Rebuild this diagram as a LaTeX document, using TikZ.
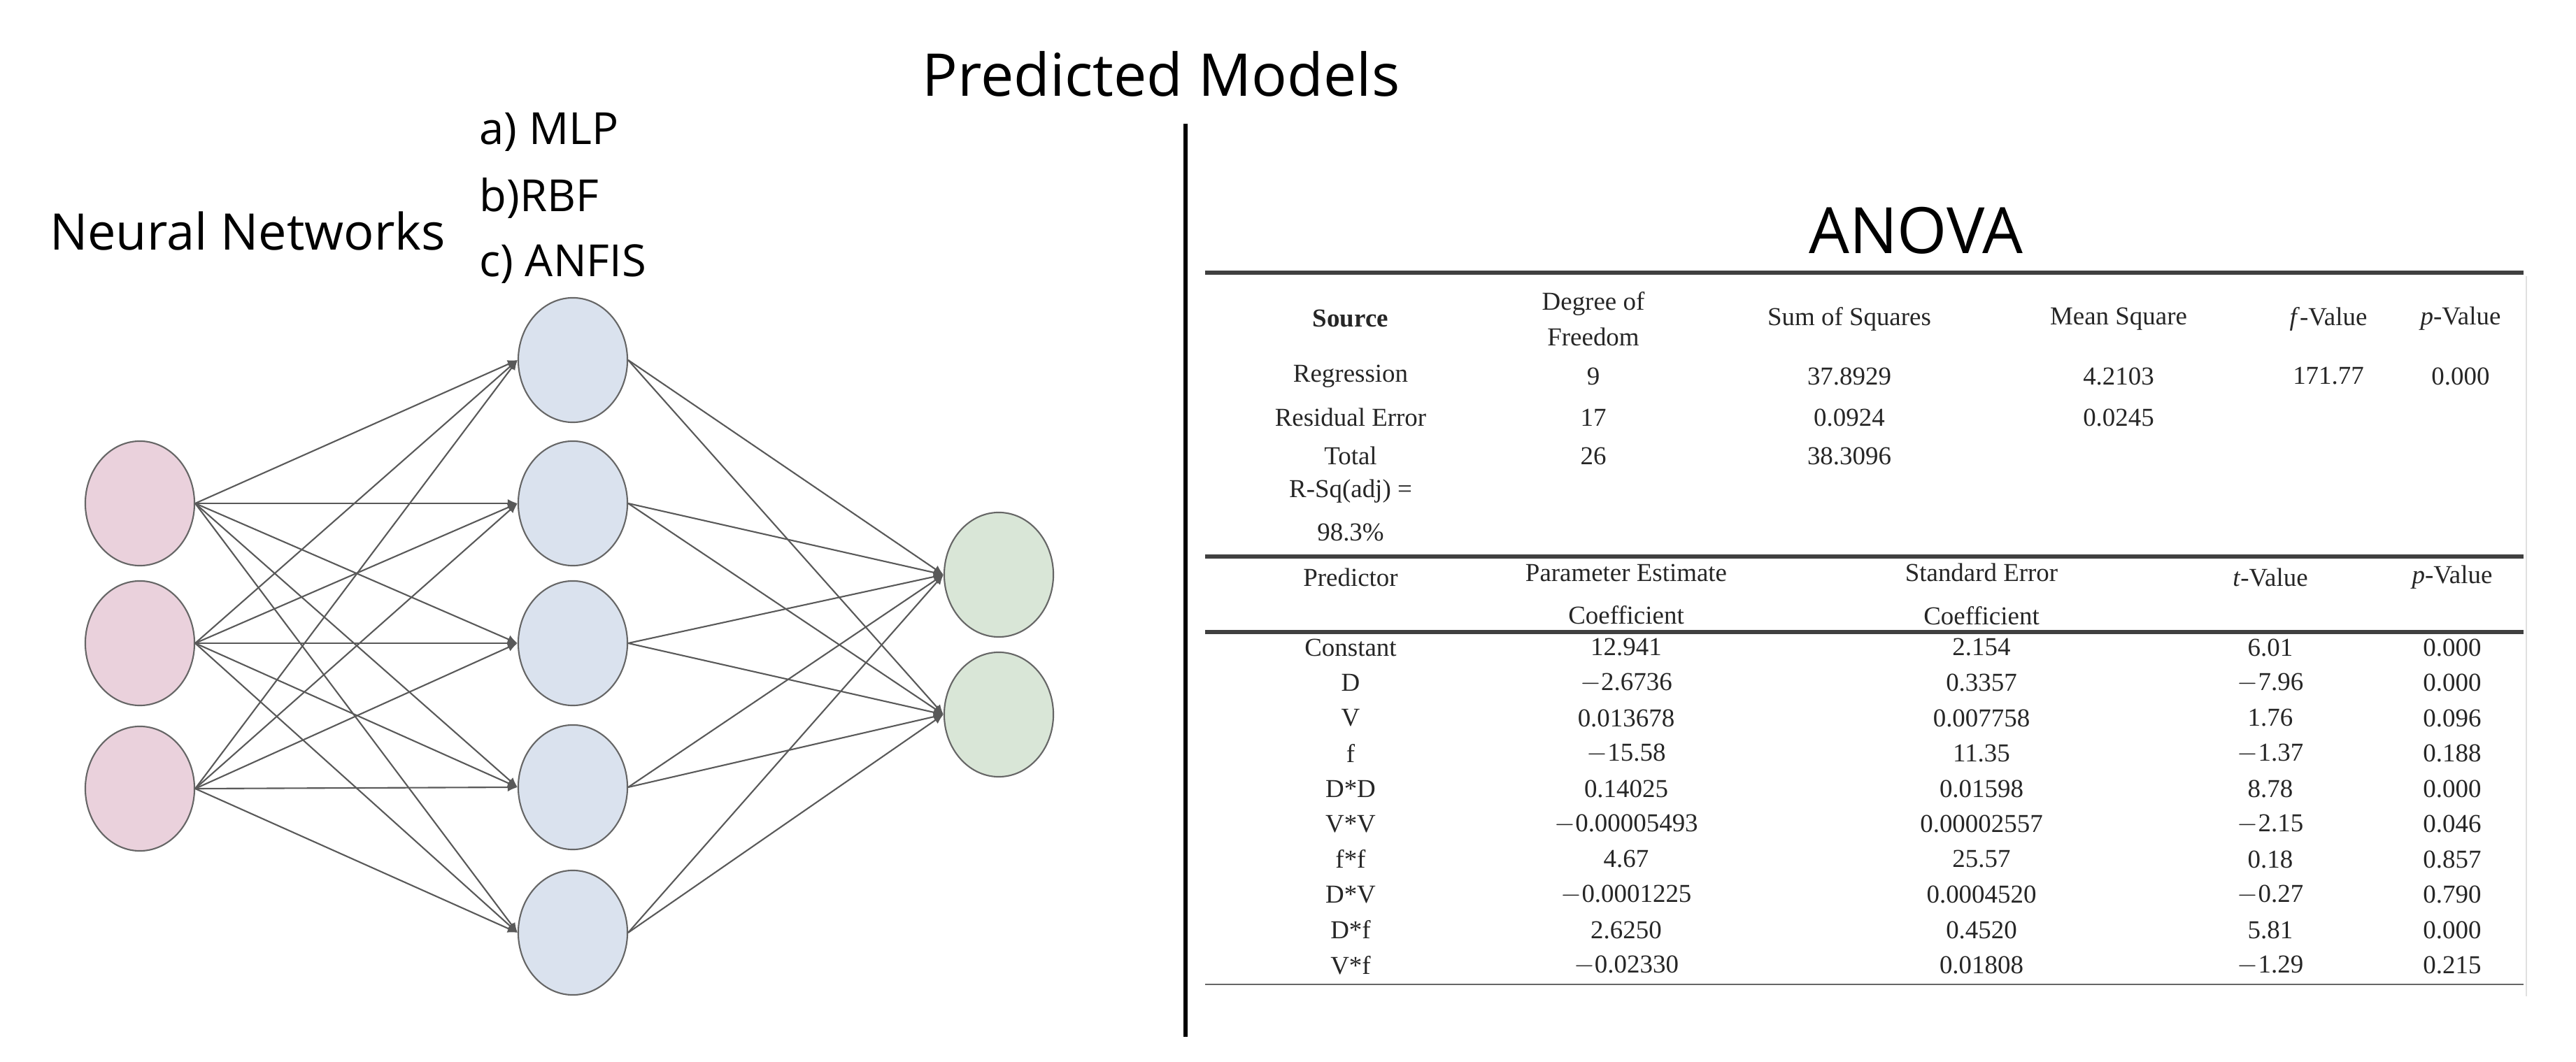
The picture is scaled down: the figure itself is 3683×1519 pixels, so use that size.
\documentclass[tikz,border=0pt]{standalone}
\usepackage{fontspec}
\setmainfont{Liberation Serif}
\newfontfamily\sans{Open Sans}
\usetikzlibrary{arrows.meta,shapes.geometric}
\begin{document}
\begin{tikzpicture}[x=0.01cm,y=-0.01cm,
  neu/.style={ellipse,draw=gray!80!black,line width=0.6pt,minimum width=1.56cm,minimum height=1.78cm,inner sep=0pt},
  inp/.style={neu,fill={rgb,255:red,234;green,209;blue,220}},
  hid/.style={neu,fill={rgb,255:red,218;green,226;blue,238}},
  outp/.style={neu,fill={rgb,255:red,217;green,230;blue,215}},
  con/.style={draw=gray!70!black,line width=0.6pt,-{Latex[length=4pt,width=3.5pt]}},
  big/.style={font=\sans\fontsize{24}{28}\selectfont,inner sep=0pt},
  mid/.style={font=\sans\fontsize{18}{22}\selectfont,inner sep=0pt,anchor=west},
  tb/.style={font=\fontsize{10.5}{12.5}\selectfont,inner sep=0pt,align=center,text=black!85},
  rule/.style={line width=1.6pt,draw=black!75}]
\useasboundingbox (0,0) rectangle (3683,1519);
\node[big] (title) at (1660,106) {Predicted Models};
\node[font=\sans\fontsize{20.5}{24}\selectfont,inner sep=0pt] (nn) at (354,330) {Neural Networks};
\node[mid] (a) at (685,189) {a) MLP};
\node[mid] (b) at (685,283) {b)RBF};
\node[mid] (c) at (685,378) {c) ANFIS};
\coordinate (vt) at (1695,177); \coordinate (vb) at (1695,1483);
\draw[line width=1.8pt] (vt) -- (vb);
\node[font=\sans\fontsize{26}{30}\selectfont,inner sep=0pt] (anova) at (2739,330) {ANOVA};
% network
\foreach \i/\y in {1/720,2/920,3/1128} \node[inp] (i\i) at (200,\y) {};
\foreach \i/\y in {1/515,2/720,3/920,4/1126,5/1334} \node[hid] (h\i) at (819,\y) {};
\foreach \i/\y in {1/822,2/1022} \node[outp] (o\i) at (1428,\y) {};
\foreach \i in {1,2,3} \foreach \j in {1,...,5} \draw[con] (i\i.east) -- (h\j.west);
\foreach \j in {1,...,5} \foreach \k in {1,2} \draw[con] (h\j.east) -- (o\k.west);
% table
\coordinate (r1l) at (1723,390); \coordinate (r1r) at (3608,390);
\coordinate (r2l) at (1723,796); \coordinate (r2r) at (3608,796);
\coordinate (r3l) at (1723,904); \coordinate (r3r) at (3608,904);
\coordinate (r4l) at (1723,1408); \coordinate (r4r) at (3608,1408);
\draw[rule] (r1l) -- (r1r);
\draw[rule] (r2l) -- (r2r);
\draw[rule] (r3l) -- (r3r);
\draw[line width=0.8pt,draw=black!60] (r4l) -- (r4r);
\draw[line width=0.6pt,draw=black!12] (3612,395) -- (3612,1425);
\node[tb,font=\bfseries\fontsize{10.5}{12.5}\selectfont] (hs) at (1931,456) {Source};
\node[tb] (hd) at (2278,456) {Degree of\\[2pt]Freedom};
\node[tb] (hss) at (2644,456) {Sum of Squares};
\node[tb] (hms) at (3029,456) {Mean Square};
\node[tb] (hf) at (3329,456) {\textit{f}-Value};
\node[tb] (hp) at (3518,456) {\textit{p}-Value};
\foreach \n/\y/\a/\b/\c/\d/\e/\f in {reg/538/Regression/9/37.8929/4.2103/171.77/0.000,res/597/Residual Error/17/0.0924/0.0245//,tot/652/Total/26/38.3096///}{
  \node[tb] (\n s) at (1931,\y) {\a};
  \node[tb] (\n d) at (2278,\y) {\b};
  \node[tb] (\n ss) at (2644,\y) {\c};
  \node[tb] (\n ms) at (3029,\y) {\d};
  \node[tb] (\n f) at (3329,\y) {\e};
  \node[tb] (\n p) at (3518,\y) {\f};
}
\node[tb] (rsq) at (1931,730) {R-Sq(adj) =\\[5pt]98.3\%};
\node[tb] (pp) at (1931,826) {Predictor};
\node[tb] (pe) at (2325,850) {Parameter Estimate\\[5pt]Coefficient};
\node[tb] (se) at (2833,850) {Standard Error\\[5pt]Coefficient};
\node[tb] (pt) at (3246,826) {\textit{t}-Value};
\node[tb] (ppv) at (3506,826) {\textit{p}-Value};
\foreach \k/\a/\b/\c/\d/\e in {0/Constant/12.941/2.154/6.01/0.000,
 1/D/$-$2.6736/0.3357/$-$7.96/0.000,
 2/V/0.013678/0.007758/1.76/0.096,
 3/f/$-$15.58/11.35/$-$1.37/0.188,
 4/D*D/0.14025/0.01598/8.78/0.000,
 5/V*V/$-$0.00005493/0.00002557/$-$2.15/0.046,
 6/f*f/4.67/25.57/0.18/0.857,
 7/D*V/$-$0.0001225/0.0004520/$-$0.27/0.790,
 8/D*f/2.6250/0.4520/5.81/0.000,
 9/V*f/$-$0.02330/0.01808/$-$1.29/0.215}{
  \node[tb] (c\k a) at (1931,926+\k*50.5) {\a};
  \node[tb] (c\k b) at (2325,926+\k*50.5) {\b};
  \node[tb] (c\k c) at (2833,926+\k*50.5) {\c};
  \node[tb] (c\k d) at (3246,926+\k*50.5) {\d};
  \node[tb] (c\k e) at (3506,926+\k*50.5) {\e};
}
\end{tikzpicture}
\end{document}
